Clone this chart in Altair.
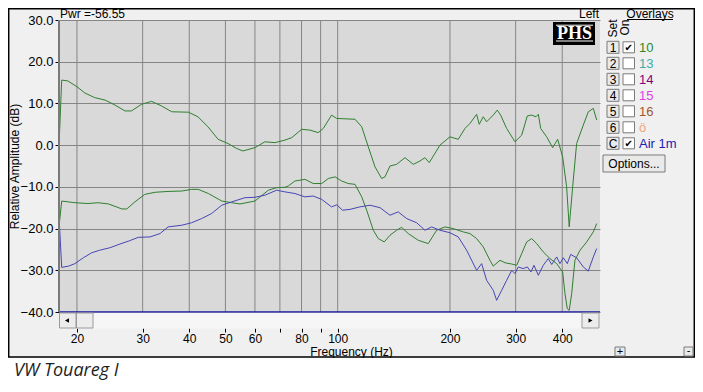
import altair as alt
import pandas as pd

# ---------------- data ----------------
upper_freq = [17.9, 18.2, 18.9, 20.0, 21.0, 22.3, 23.8, 25.3, 26.9, 28.0, 29.8, 31.7, 33.7, 35.9,
              39.8, 42.2, 44.9, 47.8, 50.8, 53.6, 55.7, 60.0, 63.8, 67.9, 72.2, 75.3, 80.1, 84.3,
              88.7, 91.5, 96.3, 99.4, 111.3, 116.0, 120.8, 125.9, 131.2, 133.9, 138.1, 143.9,
              151.5, 159.5, 166.2, 171.4, 176.0, 188.0, 200.0, 210.5, 219.4, 226.3, 235.8, 239.6,
              245.6, 250.8, 256.0, 261.3, 267.8, 273.5, 283.8, 298.8, 311.4, 322.4, 331.2, 340.2,
              345.1, 350.2, 363.3, 377.0, 388.9, 401.0, 411.0, 417.6, 426.6, 437.2, 455.5, 469.8,
              484.6, 494.8]
upper_db = [-0.2, 15.6, 15.4, 14.0, 12.5, 11.4, 10.8, 9.6, 8.2, 8.2, 9.8, 10.5, 9.4, 8.0,
            7.9, 6.8, 4.4, 1.4, 0.4, -0.8, -1.4, -0.6, 0.8, 0.6, 1.2, 1.8, 3.8, 3.6,
            3.0, 4.0, 7.2, 6.4, 6.2, 4.4, -0.4, -5.2, -8.0, -7.6, -5.0, -4.6,
            -3.0, -4.6, -3.8, -3.0, -4.2, 0.0, 2.0, 1.4, 4.0, 5.2, 7.4, 5.0,
            6.8, 5.6, 6.4, 7.2, 8.4, 7.2, 4.0, 0.8, 2.4, 7.0, 7.2, 6.8,
            7.4, 4.0, 2.0, -0.6, 1.4, -2.8, -10.0, -19.6, -10.0, 0.4, 4.8, 8.0,
            8.8, 6.0]

lower_freq = [17.9, 18.2, 19.75, 21.4, 22.8, 24.3, 26.4, 27.2, 28.6, 30.4, 32.4, 35.1, 38.2,
              40.6, 42.3, 45.0, 48.9, 52.0, 54.7, 60.0, 65.2, 68.6, 72.2, 73.7, 76.8, 81.7,
              86.0, 90.6, 94.4, 98.4, 102.5, 106.7, 111.3, 116.0, 119.6, 124.6, 128.5, 133.3,
              138.1, 143.9, 148.4, 154.6, 164.4, 174.9, 184.2, 193.9, 204.1, 217.1, 226.3,
              235.8, 245.6, 256.0, 261.3, 272.4, 280.9, 292.8, 302.0, 311.4, 321.2, 331.2,
              341.6, 355.8, 370.9, 386.5, 401.0, 406.8, 412.6, 417.6, 424.0, 432.6, 446.3,
              465.2, 484.6, 494.8]
lower_db = [-19.6, -13.4, -13.8, -14.0, -13.8, -14.1, -15.3, -15.3, -13.6, -11.8, -11.3, -11.1, -11.0,
            -10.6, -10.6, -11.6, -13.4, -13.8, -14.1, -13.4, -10.8, -10.2, -10.1, -9.8, -8.6, -8.2,
            -9.2, -9.2, -8.0, -7.6, -8.6, -9.2, -9.4, -12.4, -15.6, -20.4, -22.4, -23.2,
            -21.6, -20.4, -19.7, -21.2, -22.8, -23.6, -20.4, -19.6, -20.0, -20.8, -21.2,
            -22.4, -24.4, -27.6, -29.0, -27.6, -28.2, -28.5, -28.8, -26.0, -23.2, -22.4,
            -23.6, -25.6, -27.2, -28.4, -30.4, -35.6, -39.2, -39.6, -35.6, -27.6, -25.2,
            -23.2, -20.8, -18.8]

air_freq = [17.9, 18.2, 19.0, 19.75, 20.8, 21.9, 23.0, 24.5, 26.1, 27.7, 29.2, 31.4, 33.4, 35.1,
            38.2, 40.6, 43.2, 45.9, 48.9, 52.0, 56.4, 60.0, 63.8, 68.6, 72.2, 76.8, 81.7, 86.0,
            90.6, 96.3, 99.5, 103.0, 107.9, 114.7, 122.1, 129.9, 138.1, 145.3, 153.1, 162.8,
            171.4, 178.6, 188.0, 200.0, 210.5, 221.7, 235.8, 243.2, 250.8, 261.3, 266.8, 275.2,
            283.8, 292.8, 298.8, 304.8, 314.4, 322.4, 329.8, 336.0, 345.1, 355.8, 366.9, 374.8,
            386.5, 394.4, 402.6, 412.6, 421.4, 437.2, 455.5, 469.8, 484.6, 494.8]
air_db = [-17.0, -29.3, -29.0, -28.4, -27.0, -25.8, -25.2, -24.6, -23.7, -22.9, -22.1, -22.0, -21.2, -19.6,
          -19.2, -18.6, -17.6, -16.4, -14.4, -13.6, -12.6, -12.5, -12.0, -10.8, -11.2, -11.6, -12.4, -12.2,
          -13.0, -14.8, -14.3, -15.6, -15.4, -14.8, -14.4, -15.0, -16.8, -16.0, -17.6, -18.6,
          -20.4, -19.6, -20.4, -21.0, -22.0, -25.2, -30.0, -28.4, -32.4, -34.8, -37.2, -34.8,
          -32.4, -30.0, -30.8, -29.2, -29.6, -29.2, -30.4, -28.8, -31.2, -28.8, -27.2, -28.6,
          -26.8, -28.4, -27.0, -28.4, -26.2, -27.0, -29.2, -30.2, -26.8, -24.8]

series_names = ["Set 10", "Current", "Air 1m"]
series_colors = ["#2f7f2f", "#2f7f2f", "#4646b4"]

x_ticks = [20, 30, 40, 50, 60, 70, 80, 90, 100, 200, 300, 400]
x_unlabeled = [70, 90]
y_ticks = [-40, -30, -20, -10, 0, 10, 20, 30]
freq_domain = [17.9, 505]
db_domain = [-40, 30]

pwr_text = "Pwr =-56.55"
channel_text = "Left"
x_title = "Frequency (Hz)"
y_title = "Relative Amplitude (dB)"
overlay_title = "Overlays"
overlay_sets = ["1", "2", "3", "4", "5", "6", "C"]
overlay_names = ["10", "13", "14", "15", "16", "ö", "Air 1m"]
overlay_colors = ["#2a8a2a", "#3aacac", "#800080", "#e040e0", "#a0562d", "#f0a47a", "#2020b0"]
overlay_on = [True, False, False, False, False, False, True]
caption = "VW Touareg I"

# ---------------- chart ----------------
FONT = "Liberation Sans"
W, H = 541, 292

df = pd.concat([
    pd.DataFrame({"freq": upper_freq, "db": upper_db, "series": series_names[0]}),
    pd.DataFrame({"freq": lower_freq, "db": lower_db, "series": series_names[1]}),
    pd.DataFrame({"freq": air_freq, "db": air_db, "series": series_names[2]}),
])

xscale = alt.Scale(type="log", domain=freq_domain, nice=False)
yscale = alt.Scale(domain=db_domain, nice=False, zero=False)

xaxis = alt.Axis(values=x_ticks, format="d",
                 labelExpr=f"indexof({x_unlabeled}, datum.value) >= 0 ? '' : datum.label",
                 offset=16, tickSize=4, labelPadding=1, domain=False, grid=False,
                 labelFontSize=12, title=x_title, titleX=292, titleY=23,
                 titleAlign="center", titleBaseline="middle")
yaxis = alt.Axis(values=y_ticks, format=".1f", tickSize=4, labelPadding=2, domain=False,
                 grid=True, gridColor="#858585", gridWidth=1, gridOpacity=1,
                 labelFontSize=13, title=y_title, titleX=-45, titleY=H / 2,
                 titleAngle=270, titleAlign="center", titleBaseline="middle")

vgrid = alt.Chart(pd.DataFrame({"freq": x_ticks})).mark_rule(color="#858585", strokeWidth=1).encode(
    x=alt.X("freq:Q", scale=xscale, axis=xaxis)
)

lines = alt.Chart(df).mark_line(strokeWidth=1, clip=True).encode(
    x=alt.X("freq:Q", scale=xscale, axis=xaxis),
    y=alt.Y("db:Q", scale=yscale, axis=yaxis),
    color=alt.Color("series:N", scale=alt.Scale(domain=series_names, range=series_colors), legend=None),
)

floor_rule = alt.Chart(pd.DataFrame({"db": [db_domain[0]]})).mark_rule(color="#1616a0", strokeWidth=1.5).encode(
    y=alt.Y("db:Q", scale=yscale, axis=yaxis)
)

one = pd.DataFrame({"k": [0]})


def rect(x1, y1, x2, y2, **kw):
    return alt.Chart(one).mark_rect(**kw).encode(
        x=alt.value(x1), x2=alt.value(x2), y=alt.value(y1), y2=alt.value(y2))


def text(x, y, s, **kw):
    kw.setdefault("font", FONT)
    kw.setdefault("fontSize", 12)
    kw.setdefault("color", "black")
    return alt.Chart(one).mark_text(text=s, **kw).encode(x=alt.value(x), y=alt.value(y))


def hline(x1, x2, y, **kw):
    return alt.Chart(one).mark_rule(**kw).encode(x=alt.value(x1), x2=alt.value(x2), y=alt.value(y))


def vline(x, y1, y2, **kw):
    return alt.Chart(one).mark_rule(**kw).encode(x=alt.value(x), y=alt.value(y1), y2=alt.value(y2))


deco = []
# caption area (white) and outer frame
deco.append(rect(-51, 338, 636, 364, fill="white", strokeWidth=0))
deco.append(rect(-50.3, -11.3, 635.3, 337, fillOpacity=0, stroke="black", strokeWidth=1.5))
# left plot border
deco.append(vline(0, 0, H, color="#7a7a7a", strokeWidth=2))
# scroll bar
deco.append(rect(0, 292.8, 541, 308.5, fill="#f6f6f6", strokeWidth=0))
deco.append(rect(0.5, 293, 17, 308, fill="#ececec", stroke="#9a9a9a", strokeWidth=1))
deco.append(rect(17.5, 293, 34, 308, fill="#ececec", stroke="#9a9a9a", strokeWidth=1))
deco.append(rect(523, 293, 540, 308, fill="#ececec", stroke="#9a9a9a", strokeWidth=1))
deco.append(alt.Chart(one).mark_point(shape="triangle-left", filled=True, size=22, color="black", opacity=1)
            .encode(x=alt.value(8), y=alt.value(300.5)))
deco.append(alt.Chart(one).mark_point(shape="triangle-right", filled=True, size=22, color="black", opacity=1)
            .encode(x=alt.value(531.5), y=alt.value(300.5)))
# top texts
deco.append(text(1, -2.5, pwr_text, align="left", baseline="alphabetic"))
deco.append(text(540, -2.5, channel_text, align="right", baseline="alphabetic"))
# PHS logo
deco.append(rect(494, 2, 536, 25, fill="black", strokeWidth=0))
deco.append(text(515.5, 13.5, "PHS", font="Liberation Serif", fontWeight="bold", fontSize=18,
                 color="white", align="center", baseline="middle"))
deco.append(hline(497, 534, 5.2, color="white", strokeWidth=1))
deco.append(hline(497, 534, 21, color="white", strokeWidth=1))
# overlay panel
deco.append(text(591, -2.5, overlay_title, align="center", baseline="alphabetic"))
deco.append(hline(568, 614, -0.5, color="black", strokeWidth=1))
deco.append(text(554, 8.5, "Set", angle=270, align="center", baseline="middle"))
deco.append(text(565.5, 7.5, "On", angle=270, align="center", baseline="middle"))
for i, (s, name, col, on) in enumerate(zip(overlay_sets, overlay_names, overlay_colors, overlay_on)):
    cy = 27.3 + 16 * i
    deco.append(rect(548, cy - 6, 560, cy + 6, fill="#eaeaea", stroke="#7a7a7a", strokeWidth=1))
    deco.append(text(554, cy + 0.5, s, align="center", baseline="middle"))
    deco.append(rect(564, cy - 5.5, 575.5, cy + 5.5, fill="white", stroke="#7a7a7a", strokeWidth=1))
    if on:
        deco.append(text(569.8, cy + 0.5, "✔", font="DejaVu Sans", fontSize=10,
                         align="center", baseline="middle"))
    deco.append(text(580, cy + 0.5, name, fontSize=13, color=col, align="left", baseline="middle"))
deco.append(rect(544, 135, 606, 152, fill="#eaeaea", stroke="#7a7a7a", strokeWidth=1))
deco.append(text(575, 144, "Options...", align="center", baseline="middle"))
# zoom buttons
deco.append(rect(556, 327, 566, 336, fill="#eaeaea", stroke="#7a7a7a", strokeWidth=1))
deco.append(text(561, 331.5, "+", fontSize=11, align="center", baseline="middle"))
deco.append(rect(625, 327, 634, 336, fill="#eaeaea", stroke="#7a7a7a", strokeWidth=1))
deco.append(text(629.5, 331, "-", fontSize=11, align="center", baseline="middle"))
# caption
deco.append(text(-45, 356, caption, font="Open Sans", fontStyle="italic", fontSize=18,
                 color="#1e1e1e", align="left", baseline="alphabetic"))

chart = alt.layer(vgrid, lines, floor_rule, *deco).properties(
    width=W, height=H,
    padding={"left": 51, "top": 12, "right": 95, "bottom": 72},
    autosize=alt.AutoSizeParams(type="none"),
    background="#f0f0f0",
).configure_view(
    fill="#d9d9d9", strokeWidth=0
).configure_axis(
    labelFont=FONT, titleFont=FONT, labelColor="black", titleColor="black",
    tickColor="black", titleFontSize=12, titleFontWeight="normal"
)

chart.save("out.html", embed_options={"renderer": "svg", "actions": False})
